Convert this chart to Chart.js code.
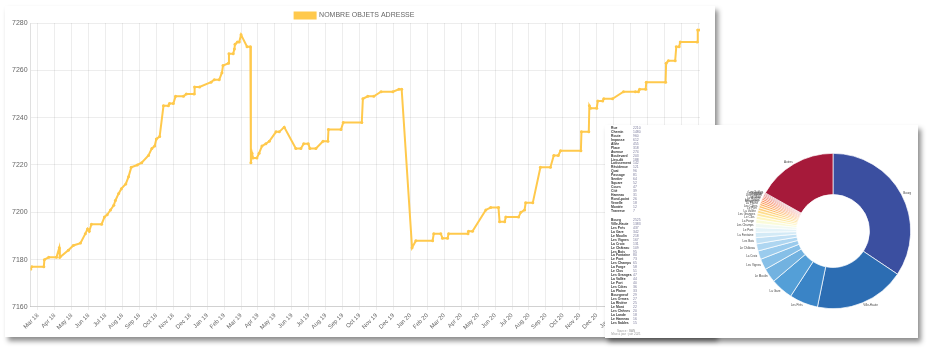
<!DOCTYPE html>
<html>
<head>
<meta charset="utf-8">
<script src="https://cdn.jsdelivr.net/npm/chart.js@4.4.0/dist/chart.umd.min.js"></script>
<style>
  body { margin: 0; background: #fff; width: 932px; height: 360px; overflow: hidden; }
  .card { position: absolute; background: #fff; }
  #lineCard { left: 5px; top: 6px; width: 710px; height: 331px; box-shadow: 3px 4px 5px rgba(0,0,0,0.45); }
  #pieCard { left: 605px; top: 125px; width: 313px; height: 213px; box-shadow: 3px 4px 5px rgba(0,0,0,0.45); }
</style>
</head>
<body>
<div class="card" id="lineCard"><canvas id="lineChart" width="710" height="331"></canvas></div>
<div class="card" id="pieCard"><canvas id="pieChart" width="313" height="213"></canvas></div>
<script>
// line chart data (one point per change of the count)
const dates = [
  '2018-02-17','2018-02-19','2018-03-12','2018-03-13','2018-03-21','2018-04-04','2018-04-09','2018-04-10','2018-04-25','2018-05-04',
  '2018-05-17','2018-05-26','2018-05-30','2018-06-02','2018-06-06','2018-06-24','2018-06-29','2018-07-04','2018-07-10','2018-07-16',
  '2018-07-19','2018-07-25','2018-07-30','2018-08-07','2018-08-12','2018-08-17','2018-08-28','2018-09-05','2018-09-17','2018-09-23',
  '2018-09-28','2018-10-01','2018-10-07','2018-10-14','2018-10-23','2018-10-25','2018-11-01','2018-11-05','2018-11-19','2018-11-24',
  '2018-12-08','2018-12-09','2018-12-18','2019-01-08','2019-01-14','2019-01-23','2019-01-28','2019-01-30','2019-02-08','2019-02-09',
  '2019-02-16','2019-02-18','2019-02-19','2019-02-23','2019-02-26','2019-03-01','2019-03-12','2019-03-18','2019-03-19','2019-03-21',
  '2019-03-23','2019-03-30','2019-04-03','2019-04-08','2019-04-15','2019-04-21','2019-05-03','2019-05-09','2019-05-18','2019-06-08',
  '2019-06-17','2019-06-22','2019-06-30','2019-07-03','2019-07-14','2019-07-27','2019-08-05','2019-08-06','2019-08-29','2019-09-02',
  '2019-10-05','2019-10-07','2019-10-16','2019-10-27','2019-11-09','2019-11-30','2019-12-11','2019-12-16','2020-01-04','2020-01-11',
  '2020-02-10','2020-02-12','2020-02-24','2020-02-27','2020-03-07','2020-03-09','2020-04-13','2020-04-14','2020-04-21','2020-05-15',
  '2020-05-24','2020-06-07','2020-06-09','2020-06-18','2020-06-20','2020-07-13','2020-07-17','2020-07-24','2020-07-26','2020-08-08',
  '2020-08-22','2020-09-09','2020-09-15','2020-09-23','2020-09-27','2020-11-03','2020-11-04','2020-11-17','2020-11-18','2020-11-20',
  '2020-12-01','2020-12-03','2020-12-12','2020-12-14','2020-12-30','2021-01-19','2021-02-09','2021-02-14','2021-02-16','2021-02-26',
  '2021-02-27','2021-04-03','2021-04-04','2021-04-08','2021-04-20','2021-04-22','2021-04-27','2021-04-29','2021-05-30','2021-05-31',
  '2021-06-04'
];
const values = [
  7176,7177,7177,7180,7181,7181,7185,7181,7184,7186,
  7187,7191,7193,7192,7195,7195,7198,7199,7201,7203,
  7205,7208,7210,7212,7215,7219,7220,7221,7224,7227,
  7228,7231,7232,7245,7245,7246,7246,7249,7249,7250,
  7250,7253,7253,7255,7256,7256,7259,7262,7263,7267,
  7267,7269,7271,7272,7272,7275,7270,7270,7221,7225,
  7223,7223,7225,7228,7229,7230,7234,7234,7236,7227,
  7227,7229,7229,7227,7227,7230,7230,7235,7235,7238,
  7238,7248,7249,7249,7251,7251,7252,7252,7185,7188,
  7188,7191,7191,7189,7189,7191,7191,7192,7192,7201,
  7202,7202,7196,7196,7198,7198,7200,7201,7204,7204,
  7219,7219,7224,7224,7226,7226,7234,7234,7245,7244,
  7244,7247,7247,7248,7248,7251,7251,7251,7252,7252,
  7255,7255,7263,7264,7264,7270,7270,7272,7272,7277,
  7277
];
const tickLabels = [
  'Mar 18','Apr 18','May 18','Jun 18','Jul 18','Aug 18','Sep 18','Oct 18','Nov 18','Dec 18',
  'Jan 19','Feb 19','Mar 19','Apr 19','May 19','Jun 19','Jul 19','Aug 19','Sep 19','Oct 19',
  'Nov 19','Dec 19','Jan 20','Feb 20','Mar 20','Apr 20','May 20','Jun 20','Jul 20','Aug 20',
  'Sep 20','Oct 20','Nov 20','Dec 20','Jan 21','Feb 21','Mar 21','Apr 21','May 21','Jun 21'
];
const yTicks = [7160, 7180, 7200, 7220, 7240, 7260, 7280];

// doughnut data
const pieLabels = [
  'Bourg','Ville-Haute','Les Prés','La Gare','Le Moulin','Les Vignes','La Croix','Le Château','Les Bois','La Fontaine',
  'Le Pont','Les Champs','La Forge','Le Clos','Les Granges','La Vallée','Le Port','Les Côtes','La Plaine','Bourgneuf',
  'Les Ormes','La Rivière','Le Mont','Les Chênes','La Lande','Le Hameau','Les Sables','Autres'
];
const pieValues = [
  2525,1383,437,342,218,167,131,109,95,80,
  73,65,58,51,47,44,40,36,33,29,
  27,25,22,20,18,16,15,1237
];
const voieTypes = [
  'Rue','Chemin','Route','Impasse','Allée','Place','Avenue','Boulevard','Lieu-dit','Lotissement','Résidence',
  'Quai','Passage','Sentier','Square','Cours','Cité','Hameau','Rond-point','Venelle','Montée','Traverse'
];
const voieCounts = [2210,1480,960,612,455,318,274,203,188,142,121,96,81,64,52,47,39,31,26,18,12,7];
const footLines = ['Source : BAN', 'Mise à jour : juin 2021'];

const pieColors = [
  '#3b4fa0','#2c6db3','#3a84c6','#549fd7','#72b2e0','#86bfe7','#9acbed','#aed6f1','#c1e0f4','#d3eaf6',
  '#e4f3f8','#f1f9f2','#fafbd9','#fef5c0','#fee9a4','#fedd8c','#fecf7c','#fdbf6e','#fdae61','#fb9c58',
  '#f88a50','#f47748','#ee6441','#e4523b','#d84135','#ca3330','#bb262e','#a61a3a'
];

// month position, Mar 2018 = 0
function monthIndex(d) {
  const [y, m, day] = d.split('-').map(Number);
  const dim = new Date(y, m, 0).getDate();
  return (y - 2018) * 12 + (m - 3) + (day - 1) / dim;
}
const points = dates.map((d, i) => ({ x: monthIndex(d), y: values[i] }));

const yellow = '#ffc94c';
const gridColor = 'rgba(0,0,0,0.07)';

// legend takes less room under it
const legendTight = {
  id: 'legendTight',
  beforeInit(chart) {
    const fit = chart.legend.fit;
    chart.legend.fit = function () {
      fit.call(this);
      this.height -= 6;
    };
  }
};

new Chart(document.getElementById('lineChart'), {
  type: 'line',
  data: {
    datasets: [{
      label: 'NOMBRE OBJETS ADRESSE',
      data: points,
      borderColor: yellow,
      backgroundColor: yellow,
      borderWidth: 2,
      pointRadius: 1.5,
      pointBorderWidth: 0,
      fill: false,
      tension: 0
    }]
  },
  options: {
    responsive: false,
    animation: false,
    layout: { padding: { left: 4, right: 15, top: 2, bottom: 4 } },
    plugins: {
      legend: {
        labels: { boxWidth: 21, boxHeight: 6, padding: 4, color: '#666', font: { family: 'Liberation Sans', size: 7 } }
      },
      tooltip: { enabled: false }
    },
    scales: {
      x: {
        type: 'linear',
        min: points[0].x,
        max: points[points.length - 1].x,
        afterBuildTicks: s => { s.ticks = tickLabels.map((_, i) => ({ value: i })); },
        grid: { color: gridColor, tickLength: 3 },
        border: { color: 'rgba(0,0,0,0.12)' },
        ticks: {
          autoSkip: false, maxRotation: 45, minRotation: 45, padding: 2,
          color: '#666', font: { family: 'Liberation Sans', size: 6 },
          callback: v => tickLabels[v]
        }
      },
      y: {
        min: 7160,
        max: 7280,
        afterBuildTicks: s => { s.ticks = yTicks.map(v => ({ value: v })); },
        grid: { color: gridColor, drawTicks: false },
        border: { color: 'rgba(0,0,0,0.12)' },
        ticks: { padding: 3, color: '#666', font: { family: 'Liberation Sans', size: 7 }, callback: v => String(v) }
      }
    }
  },
  plugins: [legendTight]
});

// tiny labels round the ring and the list on the left of the card
const pieText = {
  id: 'pieText',
  afterDraw(chart) {
    const ctx = chart.ctx;
    const meta = chart.getDatasetMeta(0);
    ctx.save();
    ctx.textBaseline = 'middle';
    ctx.font = '3px "Liberation Sans"';
    ctx.fillStyle = '#444';
    meta.data.forEach((arc, i) => {
      const a = (arc.startAngle + arc.endAngle) / 2;
      const r = arc.outerRadius + 2;
      ctx.textAlign = Math.cos(a) >= 0 ? 'left' : 'right';
      ctx.fillText(pieLabels[i], arc.x + Math.cos(a) * r, arc.y + Math.sin(a) * r);
    });

    ctx.textAlign = 'left';
    let y = 3;
    voieTypes.forEach((name, i) => {
      ctx.font = 'bold 3.4px "Liberation Sans"';
      ctx.fillStyle = '#333';
      ctx.fillText(name, 6, y);
      ctx.font = '3.4px "Liberation Sans"';
      ctx.fillStyle = '#7a7a9a';
      ctx.fillText(String(voieCounts[i]), 28, y);
      y += 3.95;
    });
    y = 95;
    pieLabels.slice(0, 27).forEach((name, i) => {
      ctx.font = 'bold 3.4px "Liberation Sans"';
      ctx.fillStyle = '#333';
      ctx.fillText(name, 6, y);
      ctx.font = '3.4px "Liberation Sans"';
      ctx.fillStyle = '#7a7a9a';
      ctx.fillText(String(pieValues[i]), 28, y);
      y += 3.95;
    });
    ctx.font = '3px "Liberation Sans"';
    ctx.fillStyle = '#999';
    ctx.textAlign = 'center';
    ctx.fillText(footLines[0], 21, 206);
    ctx.fillText(footLines[1], 21, 209.5);
    ctx.restore();
  }
};

new Chart(document.getElementById('pieChart'), {
  type: 'doughnut',
  data: {
    labels: pieLabels,
    datasets: [{
      data: pieValues,
      backgroundColor: pieColors,
      borderColor: '#fff',
      borderWidth: 0.7
    }]
  },
  options: {
    responsive: false,
    animation: false,
    cutout: '47%',
    layout: { padding: { left: 150, right: 7, top: 28, bottom: 29 } },
    plugins: { legend: { display: false }, tooltip: { enabled: false } }
  },
  plugins: [pieText]
});
</script>
</body>
</html>
